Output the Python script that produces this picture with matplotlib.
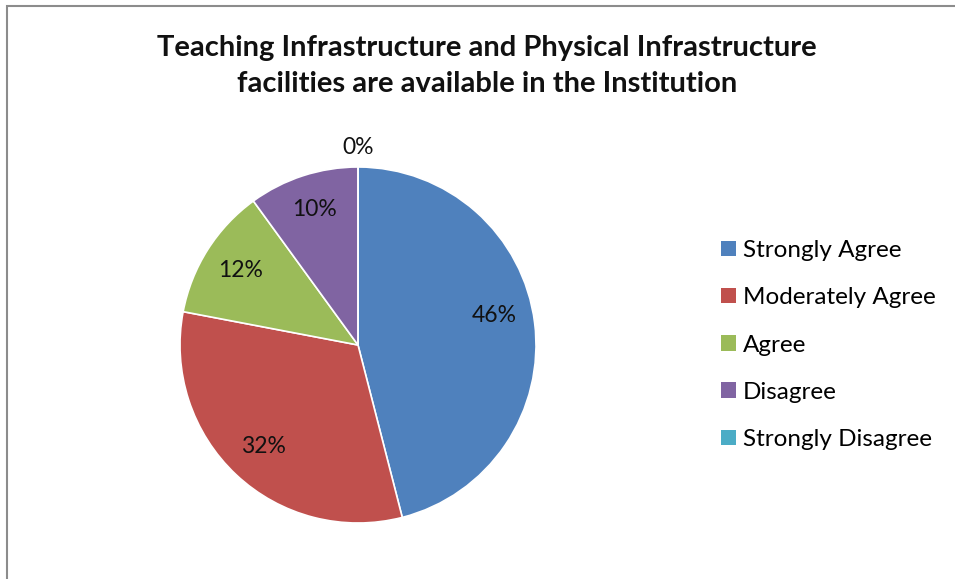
import matplotlib
matplotlib.use("Agg")
import matplotlib.pyplot as plt
from matplotlib.patches import Rectangle, Patch
import numpy as np

plt.rcParams["font.family"] = ["Lato", "DejaVu Sans"]

# data
categories = ["Strongly Agree", "Moderately Agree", "Agree", "Disagree", "Strongly Disagree"]
shares = [46, 32, 12, 10, 0]
colors = ["#4F81BD", "#C0504D", "#9BBB59", "#8064A2", "#4BACC6"]
title = "Teaching Infrastructure and Physical Infrastructure\nfacilities are available in the Institution"

W, H = 955, 579
fig = plt.figure(figsize=(W / 100, H / 100), dpi=100)
fig.patch.set_facecolor("white")

# chart-area frame (only left/top edges visible in the crop)
fig.add_artist(Rectangle((6.5 / W, -0.05), 1.2, 1 - 5.5 / H + 0.05, transform=fig.transFigure,
                         fill=False, edgecolor="#8c8c8c", lw=1.5))

cx, cy, r = 358, 345, 178
ax = fig.add_axes([(cx - r) / W, (H - cy - r) / H, 2 * r / W, 2 * r / H])
wedges, _ = ax.pie(shares, colors=colors, startangle=90, counterclock=False, radius=1,
                   wedgeprops=dict(edgecolor="white", linewidth=1.2))
ax.set_xlim(-1, 1); ax.set_ylim(-1, 1)
ax.set_aspect("auto")
ax.axis("off")

dist = [0.77, 0.78, 0.78, 0.80, 1.11]
for w, s, d in zip(wedges, shares, dist):
    ang = np.deg2rad((w.theta1 + w.theta2) / 2)
    ax.text(d * np.cos(ang), d * np.sin(ang) + (0.07 if s == 46 else 0), f"{s}%",
            ha="center", va="center", fontsize=16.5, color="#111111", clip_on=False)

fig.text(487 / W, 1 - 66 / H, title, ha="center", va="center", fontsize=21,
         fontweight="bold", linespacing=1.5, color="#111111")

handles = [Patch(facecolor=c, edgecolor="none") for c in colors]
fig.legend(handles, categories, loc="center left", bbox_to_anchor=(721 / W, 1 - 345 / H),
           frameon=False, fontsize=17.5, handlelength=0.6, handleheight=0.6,
           handletextpad=0.3, labelspacing=1.08, borderpad=0, borderaxespad=0)

fig.savefig("out.png", dpi=100)
